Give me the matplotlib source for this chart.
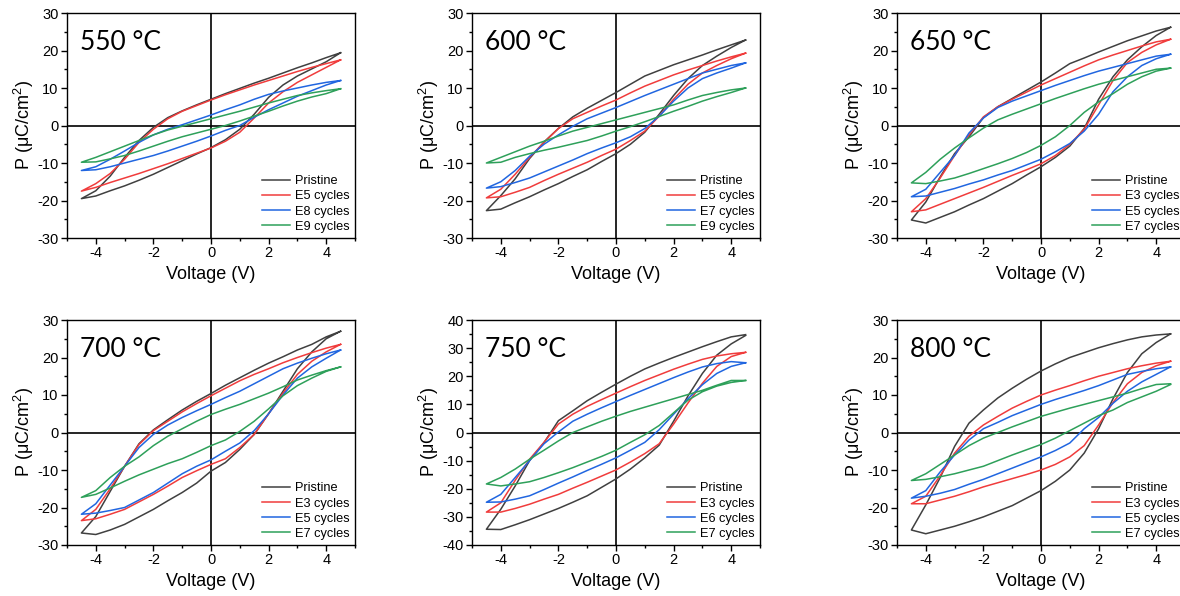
import numpy as np
import matplotlib
matplotlib.use("Agg")
from matplotlib import pyplot as plt
from matplotlib.ticker import MultipleLocator

plt.rcParams["font.family"] = ["Liberation Sans", "DejaVu Sans"]
plt.rcParams["axes.unicode_minus"] = False
plt.rcParams["mathtext.fontset"] = "custom"
plt.rcParams["mathtext.rm"] = "Liberation Sans"

# voltage grid (V) used by every branch
volt = [-4.5, -4, -3.5, -3, -2.5, -2, -1.5, -1, -0.5, 0, 0.5, 1, 1.5, 2, 2.5, 3, 3.5, 4, 4.5]

temps = ["550 °C", "600 °C", "650 °C", "700 °C", "750 °C", "800 °C"]
labels = [
    ["Pristine", "E5 cycles", "E8 cycles", "E9 cycles"],
    ["Pristine", "E5 cycles", "E7 cycles", "E9 cycles"],
    ["Pristine", "E3 cycles", "E5 cycles", "E7 cycles"],
    ["Pristine", "E3 cycles", "E5 cycles", "E7 cycles"],
    ["Pristine", "E3 cycles", "E6 cycles", "E7 cycles"],
    ["Pristine", "E3 cycles", "E5 cycles", "E7 cycles"],
]

# upper branch (sweep down) and lower branch (sweep up), P in uC/cm2
# 550 C
up_550 = [
    [-19.5, -17.4, -13.5, -8.5, -4.0, -0.5, 2.1, 3.9, 5.5, 7.0, 8.5, 9.9, 11.3, 12.6, 14.0, 15.4, 16.7, 18.1, 19.4],
    [-17.5, -15.5, -12.8, -9.0, -4.5, -1.0, 1.8, 3.8, 5.3, 6.8, 8.2, 9.5, 10.8, 12.0, 13.2, 14.4, 15.5, 16.5, 17.5],
    [-12.0, -11.0, -9.0, -6.8, -4.5, -2.5, -1.0, 0.2, 1.5, 2.8, 4.2, 5.5, 7.0, 8.3, 9.2, 10.0, 10.8, 11.5, 12.0],
    [-9.8, -8.5, -7.0, -5.5, -4.0, -2.5, -1.2, -0.2, 0.8, 1.8, 2.8, 3.8, 4.9, 6.0, 7.0, 8.0, 8.7, 9.3, 9.8],
]
lo_550 = [
    [-19.5, -18.8, -17.4, -16.1, -14.6, -13.0, -11.2, -9.4, -7.6, -5.9, -3.8, -1.0, 3.0, 7.5, 10.8, 13.2, 15.1, 17.0, 19.4],
    [-17.5, -16.5, -15.2, -14.0, -12.8, -11.5, -10.2, -8.8, -7.4, -6.0, -4.2, -1.8, 2.0, 6.0, 9.0, 11.5, 13.5, 15.5, 17.5],
    [-12.0, -11.8, -11.0, -10.0, -9.0, -8.0, -6.8, -5.5, -4.2, -2.8, -1.3, 0.0, 2.2, 4.2, 6.0, 7.8, 9.3, 10.8, 12.0],
    [-9.8, -9.7, -8.9, -8.0, -6.8, -5.5, -4.2, -3.0, -2.0, -1.0, 0.0, 1.2, 2.5, 3.8, 5.2, 6.5, 7.6, 8.5, 9.8],
]
# 600 C
up_600 = [
    [-22.7, -18.7, -14.2, -8.8, -4.4, -0.8, 2.3, 4.6, 6.7, 8.8, 11.0, 13.2, 14.7, 16.2, 17.5, 18.8, 20.2, 21.5, 22.8],
    [-19.3, -17.0, -13.0, -8.5, -4.5, -0.8, 1.8, 3.5, 5.2, 6.8, 8.7, 10.5, 12.0, 13.5, 14.8, 16.0, 17.2, 18.3, 19.3],
    [-16.7, -15.0, -12.0, -8.2, -5.0, -2.5, -0.2, 1.8, 3.3, 4.8, 6.4, 8.0, 9.5, 11.0, 12.5, 14.0, 15.0, 16.0, 16.7],
    [-10.0, -8.5, -7.0, -5.5, -4.2, -2.8, -1.5, -0.5, 0.5, 1.5, 2.5, 3.5, 4.5, 5.5, 6.8, 8.0, 8.8, 9.5, 10.0],
]
lo_600 = [
    [-22.7, -22.3, -20.6, -19.0, -17.2, -15.5, -13.6, -11.8, -9.6, -7.5, -5.0, -1.8, 3.0, 8.0, 12.5, 16.0, 18.5, 20.8, 22.8],
    [-19.3, -19.0, -17.8, -16.5, -14.7, -13.0, -11.4, -9.8, -8.0, -6.3, -4.0, -1.5, 2.5, 7.0, 11.0, 14.0, 16.0, 17.8, 19.3],
    [-16.7, -16.3, -15.2, -14.0, -12.4, -10.8, -9.2, -7.5, -6.0, -4.6, -3.0, -0.8, 2.5, 6.5, 10.0, 12.5, 14.0, 15.3, 16.7],
    [-10.0, -9.8, -8.5, -7.5, -6.6, -5.8, -4.9, -4.0, -2.8, -1.5, -0.3, 1.0, 2.4, 3.8, 5.1, 6.5, 7.7, 8.8, 10.0],
]
# 650 C
up_650 = [
    [-25.2, -20.4, -13.7, -7.5, -3.0, 2.1, 5.0, 7.2, 9.4, 11.6, 14.0, 16.5, 18.0, 19.6, 21.1, 22.6, 23.9, 25.2, 26.2],
    [-23.0, -19.5, -14.0, -8.0, -2.5, 2.3, 5.0, 7.0, 8.9, 10.8, 12.5, 14.2, 15.9, 17.5, 18.8, 20.0, 21.2, 22.3, 23.0],
    [-19.0, -17.0, -12.5, -8.0, -2.0, 2.0, 4.8, 6.5, 7.9, 9.3, 10.7, 12.0, 13.3, 14.5, 15.5, 16.5, 17.5, 18.5, 19.0],
    [-15.3, -12.5, -9.0, -6.0, -3.3, -0.7, 1.5, 3.0, 4.4, 5.8, 7.2, 8.5, 9.8, 11.0, 12.0, 13.0, 14.0, 15.0, 15.3],
]
lo_650 = [
    [-25.2, -26.0, -24.5, -23.0, -21.2, -19.5, -17.5, -15.5, -13.2, -11.0, -8.5, -5.5, -0.8, 7.0, 13.0, 17.5, 21.0, 24.0, 26.2],
    [-23.0, -22.5, -21.0, -19.5, -18.0, -16.5, -14.9, -13.3, -11.8, -10.2, -8.0, -5.0, -1.0, 5.5, 12.0, 16.8, 19.5, 21.5, 23.0],
    [-19.0, -18.8, -17.8, -16.8, -15.6, -14.5, -13.2, -12.0, -10.5, -9.0, -7.0, -4.8, -1.5, 3.0, 9.0, 13.0, 16.0, 17.8, 19.0],
    [-15.3, -15.5, -14.8, -14.0, -12.8, -11.5, -10.2, -8.8, -7.2, -5.3, -3.0, 0.0, 3.5, 6.3, 8.5, 11.0, 13.0, 14.5, 15.3],
]
# 700 C
up_700 = [
    [-26.8, -22.4, -15.7, -9.0, -3.0, 0.7, 3.4, 6.0, 8.3, 10.4, 12.6, 14.6, 16.6, 18.5, 20.2, 22.0, 23.5, 25.5, 27.0],
    [-23.5, -20.5, -15.0, -9.0, -3.2, 0.5, 3.0, 5.5, 7.7, 9.8, 11.8, 13.8, 15.5, 17.0, 18.6, 20.0, 21.3, 22.5, 23.5],
    [-21.8, -19.0, -14.0, -9.0, -4.0, -0.5, 2.0, 4.0, 5.8, 7.5, 9.3, 11.0, 13.0, 15.0, 17.0, 18.5, 19.8, 21.0, 22.0],
    [-17.3, -15.5, -12.0, -9.0, -6.5, -3.5, -1.0, 1.0, 3.0, 4.8, 6.2, 7.5, 9.0, 10.5, 12.2, 14.0, 15.3, 16.5, 17.5],
]
lo_700 = [
    [-26.8, -27.2, -26.0, -24.5, -22.5, -20.5, -18.2, -16.0, -13.5, -10.3, -8.0, -4.5, -0.5, 5.0, 11.0, 17.0, 21.5, 25.0, 27.0],
    [-23.5, -23.0, -21.8, -20.5, -18.5, -16.5, -14.3, -12.0, -10.2, -8.5, -7.0, -4.0, -0.5, 5.0, 10.5, 15.5, 19.0, 21.5, 23.5],
    [-21.8, -21.5, -20.8, -20.0, -18.0, -16.0, -13.5, -11.0, -9.0, -7.3, -5.0, -2.8, 0.5, 5.0, 10.0, 14.5, 17.5, 19.8, 22.0],
    [-17.3, -16.5, -14.8, -13.0, -11.3, -9.8, -8.3, -7.0, -5.3, -3.5, -2.0, 0.3, 3.0, 6.3, 9.8, 12.5, 14.5, 16.3, 17.5],
]
# 750 C
up_750 = [
    [-34.4, -27.3, -19.0, -10.0, -3.6, 4.2, 7.7, 11.3, 14.3, 17.2, 20.0, 22.6, 24.7, 26.7, 28.6, 30.5, 32.3, 34.0, 34.8],
    [-28.3, -25.0, -17.0, -9.5, -3.5, 3.0, 6.5, 9.3, 11.7, 14.0, 16.3, 18.5, 20.5, 22.5, 24.3, 26.0, 27.2, 28.0, 28.5],
    [-24.8, -22.0, -16.0, -10.0, -4.0, 0.2, 4.0, 6.5, 8.8, 11.0, 13.2, 15.3, 17.4, 19.5, 21.5, 23.3, 24.5, 25.2, 24.8],
    [-18.3, -16.0, -13.0, -9.5, -6.3, -3.0, 0.0, 2.0, 4.0, 5.8, 7.5, 9.0, 10.5, 12.0, 13.5, 15.0, 16.8, 18.5, 18.5],
]
lo_750 = [
    [-34.4, -34.5, -32.8, -31.0, -29.0, -27.0, -24.8, -22.5, -19.5, -16.5, -13.0, -9.0, -4.5, 4.0, 13.0, 21.0, 27.5, 31.5, 34.5],
    [-28.3, -28.3, -27.0, -25.5, -23.7, -22.0, -19.8, -17.7, -15.5, -13.3, -10.5, -7.5, -4.0, 3.0, 10.5, 17.5, 23.5, 27.0, 28.5],
    [-24.8, -24.7, -23.7, -22.5, -20.3, -18.0, -15.8, -13.5, -11.3, -9.0, -6.3, -3.5, 1.0, 6.5, 12.0, 17.0, 21.0, 23.5, 24.8],
    [-18.3, -19.0, -18.3, -17.5, -16.0, -14.3, -12.5, -10.5, -8.5, -6.3, -3.5, -0.8, 2.5, 7.0, 11.5, 14.5, 16.5, 17.8, 18.5],
]
# 800 C
up_800 = [
    [-26.0, -19.3, -12.0, -3.7, 2.5, 6.0, 9.2, 11.8, 14.2, 16.4, 18.3, 20.0, 21.3, 22.6, 23.7, 24.7, 25.5, 26.0, 26.3],
    [-19.0, -17.0, -11.5, -5.5, -1.0, 2.0, 4.3, 6.5, 8.3, 10.0, 11.3, 12.5, 13.8, 15.0, 16.0, 17.0, 17.8, 18.5, 19.0],
    [-17.5, -15.5, -10.5, -6.0, -2.0, 1.0, 2.7, 4.5, 6.0, 7.5, 8.8, 10.0, 11.2, 12.5, 14.0, 15.5, 16.3, 17.0, 17.5],
    [-12.8, -11.0, -8.5, -6.0, -3.5, -1.5, 0.0, 1.5, 2.9, 4.3, 5.4, 6.5, 7.5, 8.5, 9.5, 10.5, 11.7, 12.8, 13.0],
]
lo_800 = [
    [-26.0, -27.0, -26.0, -25.0, -23.8, -22.5, -21.0, -19.5, -17.5, -15.5, -13.0, -10.0, -5.5, 1.0, 9.0, 16.0, 21.0, 24.0, 26.3],
    [-19.0, -19.0, -18.0, -17.0, -15.8, -14.5, -13.4, -12.3, -11.2, -10.0, -8.5, -6.5, -3.5, 2.0, 8.0, 13.0, 16.0, 17.8, 19.0],
    [-17.5, -17.0, -16.2, -15.2, -13.8, -12.5, -11.0, -9.5, -8.0, -6.5, -4.8, -2.8, 1.0, 4.0, 7.8, 11.0, 13.5, 15.5, 17.5],
    [-12.8, -12.5, -11.8, -11.0, -10.0, -9.0, -7.5, -6.0, -4.6, -3.2, -1.5, 0.5, 2.5, 4.5, 6.0, 8.0, 9.5, 11.0, 12.8],
]

uppers = [up_550, up_600, up_650, up_700, up_750, up_800]
lowers = [lo_550, lo_600, lo_650, lo_700, lo_750, lo_800]
ylims = [(-30, 30), (-30, 30), (-30, 30), (-30, 30), (-40, 40), (-30, 30)]

colors = ["#404040", "#f03c3c", "#2166e0", "#2ea05a"]

fig = plt.figure(figsize=(11.8, 5.96), dpi=100)
W, H = 1180.0, 596.0
lefts = [67, 472, 897]
# (top, bottom) in pixels for each row
rows = [(13, 238), (320, 545)]
axw = 288

v = np.array(volt)
for k in range(6):
    r, c = divmod(k, 3)
    top, bot = rows[r]
    ax = fig.add_axes([lefts[c] / W, 1 - bot / H, axw / W, (bot - top) / H])
    ax.axhline(0, color="black", lw=1.2, zorder=1)
    ax.axvline(0, color="black", lw=1.2, zorder=1)
    for j in range(4):
        up = np.array(uppers[k][j])
        lo = np.array(lowers[k][j])
        xs = np.concatenate([v[::-1], v[1:]])
        ys = np.concatenate([up[::-1], lo[1:]])
        ax.plot(xs, ys, color=colors[j], lw=1.1, label=labels[k][j], zorder=3,
                solid_joinstyle="round")
    ax.set_xlim(-5, 5)
    ax.set_ylim(*ylims[k])
    ax.xaxis.set_major_locator(MultipleLocator(2))
    ax.xaxis.set_minor_locator(MultipleLocator(1))
    ax.yaxis.set_major_locator(MultipleLocator(10))
    ax.yaxis.set_minor_locator(MultipleLocator(5))
    ax.tick_params(which="major", direction="out", length=4, width=1, labelsize=10.5, pad=2)
    ax.tick_params(which="minor", direction="out", length=2, width=1)
    for s in ax.spines.values():
        s.set_linewidth(1.0)
    ax.set_xlabel("Voltage (V)", fontsize=13, labelpad=4)
    ax.set_ylabel("P (μC/cm$^2$)", fontsize=13, labelpad=1)
    ax.text(0.045, 0.87, temps[k], transform=ax.transAxes, fontsize=19,
            family=["Lato", "DejaVu Sans"], va="center", ha="left")
    ax.legend(loc="lower right", frameon=False, fontsize=9.2, handlelength=2.2,
              labelspacing=0.25, handletextpad=0.4, borderaxespad=0.0)

fig.savefig("out.png", dpi=100)
